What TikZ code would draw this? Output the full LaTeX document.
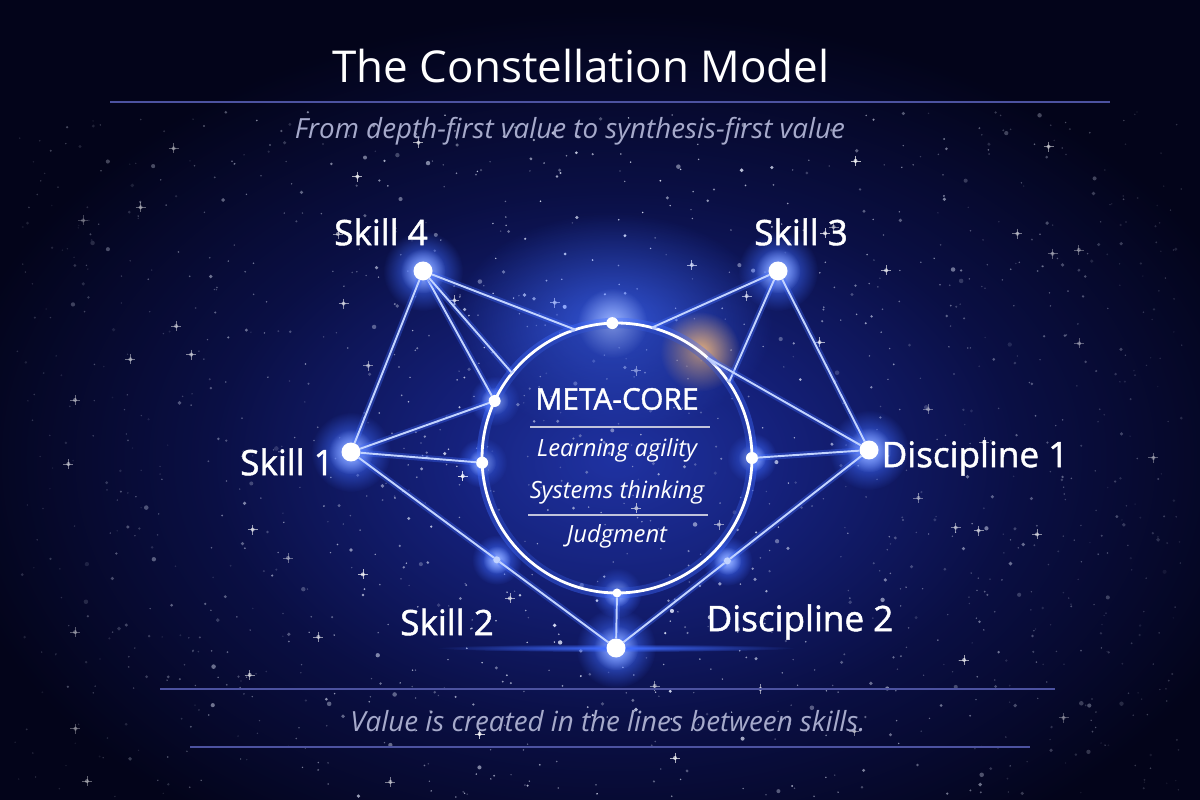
\documentclass[tikz,border=0pt]{standalone}
\usepackage{fontspec}
\setmainfont{Open Sans}
\newfontfamily\labfont{Open Sans}[FakeBold=1.3]
\usetikzlibrary{positioning,calc,fadings}
\definecolor{night}{HTML}{03041A}
\definecolor{deep}{HTML}{0A0F44}
\definecolor{sky}{HTML}{15217C}
\definecolor{skyhi}{HTML}{2236AE}
\definecolor{glowblue}{HTML}{3F6BFF}
\definecolor{glowhi}{HTML}{9DB6FF}
\definecolor{linkcol}{HTML}{C2D3FF}
\definecolor{rulecol}{HTML}{4C52A0}
\definecolor{subtext}{HTML}{A6AACB}
\definecolor{corefill}{HTML}{1A2A86}
\definecolor{flare}{HTML}{E8B07A}
\pgfdeclareradialshading{skyglow}{\pgfpoint{0bp}{0bp}}{color(0bp)=(skyhi); color(6bp)=(sky); color(15bp)=(deep); color(25bp)=(night); color(50bp)=(night)}
\tikzfading[name=halofade, inner color=transparent!0, outer color=transparent!100]
\pgfdeclarelayer{back}
\pgfdeclarelayer{glow}
\pgfsetlayers{back,glow,main}
\tikzset{
  starnode/.style={circle, fill=white, inner sep=0pt, outer sep=0pt, minimum size=0.38cm},
  hub/.style={circle, fill=white, inner sep=0pt, outer sep=0pt, minimum size=0.24cm},
  dot/.style={circle, fill=linkcol, inner sep=0pt, outer sep=0pt, minimum size=0.14cm},
  corering/.style={circle, inner sep=0pt, outer sep=0pt, minimum size=5.4cm, fill=corefill, fill opacity=0.3,
    draw=white, line width=1.6pt, preaction={draw=glowblue, line width=6pt, draw opacity=0.4}},
  link/.style={draw=linkcol, line width=1.1pt, preaction={draw=glowblue, line width=3.5pt, draw opacity=0.35}},
  halo/.style={fill=glowblue, path fading=halofade},
  core glow/.style={fill=glowhi, path fading=halofade},
  rule/.style={draw=rulecol, line width=0.9pt},
  inrule/.style={draw=subtext!70, line width=0.6pt},
  starlab/.style={text=white, font=\labfont\fontsize{20}{24}\selectfont},
  headline/.style={text=white, font=\fontsize{25}{30}\selectfont},
  tagline/.style={text=subtext, font=\fontsize{15.8}{19}\selectfont\itshape},
  coretitle/.style={text=white, font=\labfont\fontsize{17}{20}\selectfont},
  coreitem/.style={text=white, font=\fontsize{13.5}{16}\selectfont\itshape},
}

\begin{document}
\begin{tikzpicture}[x=0.02cm, y=-0.02cm]
  \useasboundingbox (0,0) rectangle (1200,800);

  % night sky
  \begin{pgfonlayer}{back}
    \fill[night] (0,0) rectangle (1200,800);
    \shade[shading=skyglow] (615,460) ellipse (13.5cm and 9cm);
    \pgfmathsetseed{4711}
    \foreach \k in {1,...,1400} {
      \pgfmathsetmacro\sx{15+rnd*1170}
      \pgfmathsetmacro\sy{112+rnd*685}
      \pgfmathsetmacro\sr{0.016+0.03*pow(rnd,5)}
      \pgfmathsetmacro\so{(0.25+0.75*rnd)*(1-0.8*abs(\sx-600)/600)}
      \fill[white!75!glowhi, opacity=\so] (\sx,\sy) circle (\sr cm);
    }
    \foreach \k in {1,...,55} {
      \pgfmathsetmacro\sx{40+rnd*1120}
      \pgfmathsetmacro\sy{140+rnd*650}
      \pgfmathsetmacro\so{(0.5+0.5*rnd)*(1-0.6*abs(\sx-600)/600)}
      \draw[white, line width=0.4pt, opacity=\so] (\sx-5,\sy) -- (\sx+5,\sy) (\sx,\sy-5) -- (\sx,\sy+5);
      \fill[white, opacity=\so] (\sx,\sy) circle (0.04cm);
    }
  \end{pgfonlayer}

  % title and rules
  \node[headline] (title) at (581,66) {The Constellation Model};
  \coordinate (tl) at (110,102);
  \coordinate (tr) at (1110,102);
  \draw[rule] (tl) -- (tr);
  \node[tagline] (sub) at (570,131) {From depth-first value to synthesis-first value};
  \coordinate (bl1) at (160,689);
  \coordinate (br1) at (1055,689);
  \coordinate (bl2) at (190,747);
  \coordinate (br2) at (1030,747);
  \draw[rule] (bl1) -- (br1);
  \draw[rule] (bl2) -- (br2);
  \node[tagline] (foot) at (608,721) {Value is created in the lines between skills.};

  % the core
  \node[corering] (core) at (617,458) {};
  \node[coretitle] (meta) at (617,399) {META-CORE};
  \node[coreitem] (agil) at (617,450) {Learning agility};
  \node[coreitem] (syst) at (617,492) {Systems thinking};
  \node[coreitem] (judg) at (617,536) {Judgment};
  \draw[inrule] (530,427) -- (710,427);
  \draw[inrule] (528,515) -- (708,515);

  % stars of the constellation
  \node[starnode] (s4) at (423,271) {};
  \node[starnode] (s3) at (778,271) {};
  \node[starnode] (s1) at (351,452) {};
  \node[starnode] (d1) at (869,450) {};
  \node[starnode] (meet) at (616,648) {};
  \node[hub] (htop) at (core.92) {};
  \node[hub] (hul) at (core.155) {};
  \node[hub] (hleft) at (core.182) {};
  \node[hub] (hright) at (core.0) {};
  \node[hub, minimum size=0.18cm] (hbot) at (core.270) {};
  \node[dot] (dl) at ($(s1)!0.55!(meet)$) {};
  \node[dot] (dr) at ($(d1)!0.56!(meet)$) {};

  \foreach \n/\txt/\x/\y in {s4/Skill 4/381/232, s3/Skill 3/801/232, s1/Skill 1/287/462,
      d1/Discipline 1/975/458, sk2/Skill 2/447/622, dc2/Discipline 2/800/622}
    \node[starlab] (\n-lab) at (\x,\y) {\txt};

  % glow
  \begin{pgfonlayer}{glow}
    \fill[glowblue, path fading=halofade, opacity=0.7] (htop) ellipse (3.2cm and 2.2cm);
    \foreach \n in {s4,s3,s1,d1,meet} {
      \fill[halo] (\n) circle (0.8cm);
      \fill[core glow] (\n) circle (0.45cm);
    }
    \foreach \n in {hul,hleft,hright,hbot,dl,dr} {
      \fill[halo] (\n) circle (0.5cm);
      \fill[core glow] (\n) circle (0.28cm);
    }
    \fill[core glow] (htop) circle (0.7cm);
    \fill[flare, path fading=halofade] (core.52) circle (0.8cm);
    \fill[halo] (meet) ellipse (3.6cm and 0.08cm);
  \end{pgfonlayer}

  % lines between skills
  \foreach \a/\b in {s4/s1, s4/core.108, s4/hul, s4/core.141, s1/hul, s1/hleft, s1/dl, dl/meet,
      s3/core.75, s3/core.34, s3/d1, d1/core.48, d1/hright, d1/dr, dr/meet, hbot/meet}
    \draw[link] (\a) -- (\b);
\end{tikzpicture}
\end{document}
